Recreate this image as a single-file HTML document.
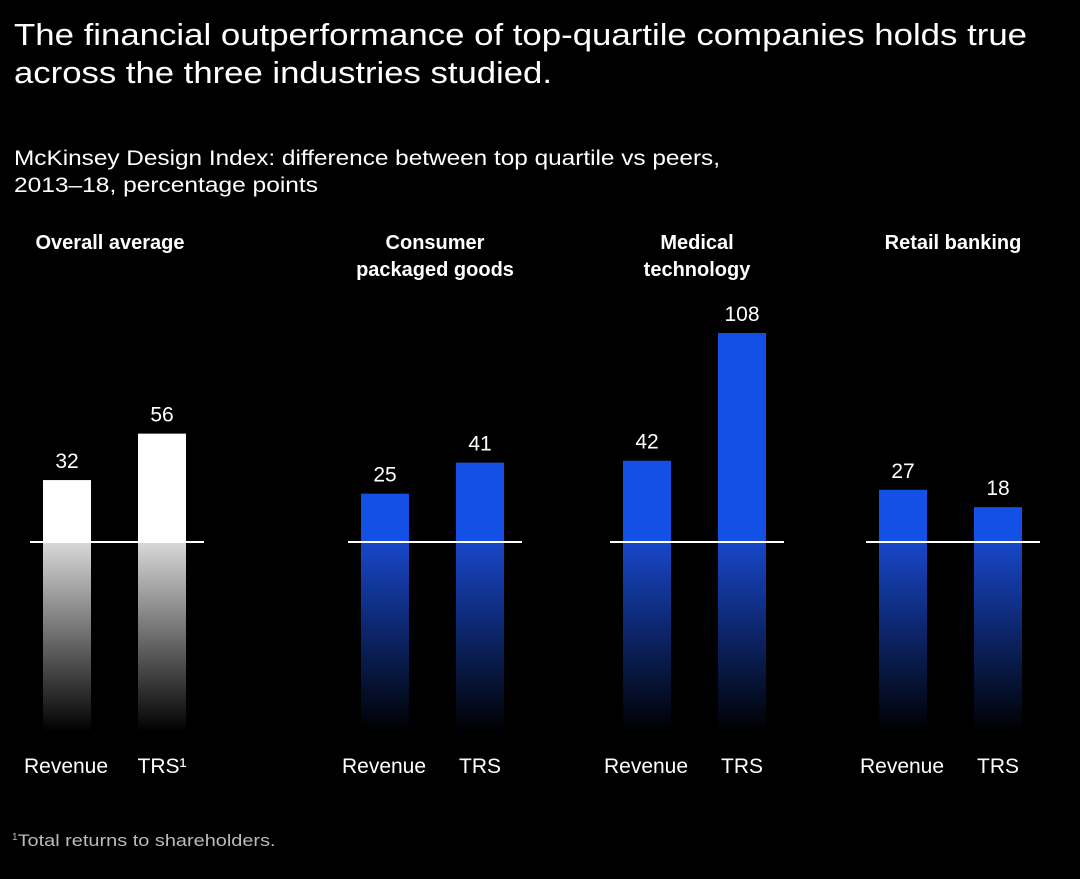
<!DOCTYPE html>
<html><head><meta charset="utf-8"><style>
body{margin:0;background:#000;width:1080px;height:874px;overflow:hidden;font-family:"Liberation Sans",sans-serif;color:#fff}
</style></head><body>
<svg width="1080" height="874" xmlns="http://www.w3.org/2000/svg">
<defs>
<linearGradient id="gw" x1="0" y1="0" x2="0" y2="1"><stop offset="0" stop-color="#fff" stop-opacity="0.85"/><stop offset="1" stop-color="#fff" stop-opacity="0"/></linearGradient>
<linearGradient id="gb" x1="0" y1="0" x2="0" y2="1"><stop offset="0" stop-color="#1a4fe0" stop-opacity="0.9"/><stop offset="1" stop-color="#1a4fe0" stop-opacity="0"/></linearGradient>
</defs>
<text x="14" y="45" font-size="31" fill="#fff" textLength="1013" lengthAdjust="spacingAndGlyphs">The financial outperformance of top-quartile companies holds true</text>
<text x="14" y="83" font-size="31" fill="#fff" textLength="538" lengthAdjust="spacingAndGlyphs">across the three industries studied.</text>
<text x="14" y="165" font-size="21" fill="#fff" textLength="706" lengthAdjust="spacingAndGlyphs">McKinsey Design Index: difference between top quartile vs peers,</text>
<text x="14" y="192" font-size="21" fill="#fff" textLength="304" lengthAdjust="spacingAndGlyphs">2013–18, percentage points</text>
<text x="12" y="846" font-size="17" fill="#bbb"><tspan font-size="10" dy="-6">1</tspan><tspan dy="6" textLength="258" lengthAdjust="spacingAndGlyphs">Total returns to shareholders.</tspan></text>
<g id="bars"></g>
</svg>
<script>
const groups=["Overall average","Consumer packaged goods","Medical technology","Retail banking"];
const revenue=[32,25,42,27];
const trs=[56,41,108,18];
const seriesLabels=["Revenue","TRS"];
const titleLines=[["Overall average"],["Consumer","packaged goods"],["Medical","technology"],["Retail banking"]];
const ns="http://www.w3.org/2000/svg";
const g=document.getElementById("bars");
const base=542, k=1.935, groupX=[30,348,610,866], bw=48;
const yS=v=>base-v*k;
function mk(tag,a){const e=document.createElementNS(ns,tag);for(const n in a)e.setAttribute(n,a[n]);g.appendChild(e);return e;}
groups.forEach((name,i)=>{
  const x0=groupX[i], white=i===0;
  const fill=white?"#fff":"#1450e6";
  const cx=x0+(i===0?80:87);
  titleLines[i].forEach((l,j)=>{const t=mk("text",{x:cx,y:249+j*27,"font-size":20,"font-weight":"bold","text-anchor":"middle",fill:"#fff"});t.textContent=l;
    
    });
  [revenue[i],trs[i]].forEach((v,s)=>{
    const bx=x0+13+s*95;
    const r=mk("rect",{x:bx,y:yS(v),width:bw,height:base-yS(v),fill:fill});
    
    
    const rf=mk("rect",{x:bx,y:base,width:bw,height:190,fill:white?"url(#gw)":"url(#gb)"});
    
    
    const vt=mk("text",{x:bx+bw/2,y:yS(v)-12,"font-size":21,"text-anchor":"middle",fill:"#fff"});vt.textContent=v;
    
    
    const lt=mk("text",{x:bx+bw/2-(s===0?1:0),y:773,"font-size":21,"text-anchor":"middle",fill:"#fff"});
    lt.textContent=seriesLabels[s]+(white&&s===1?"¹":"");
    
    
  });
  const ln=mk("line",{x1:x0,x2:x0+174,y1:base,y2:base,stroke:"#fff","stroke-width":2});
  
  
});
</script>
</body></html>
